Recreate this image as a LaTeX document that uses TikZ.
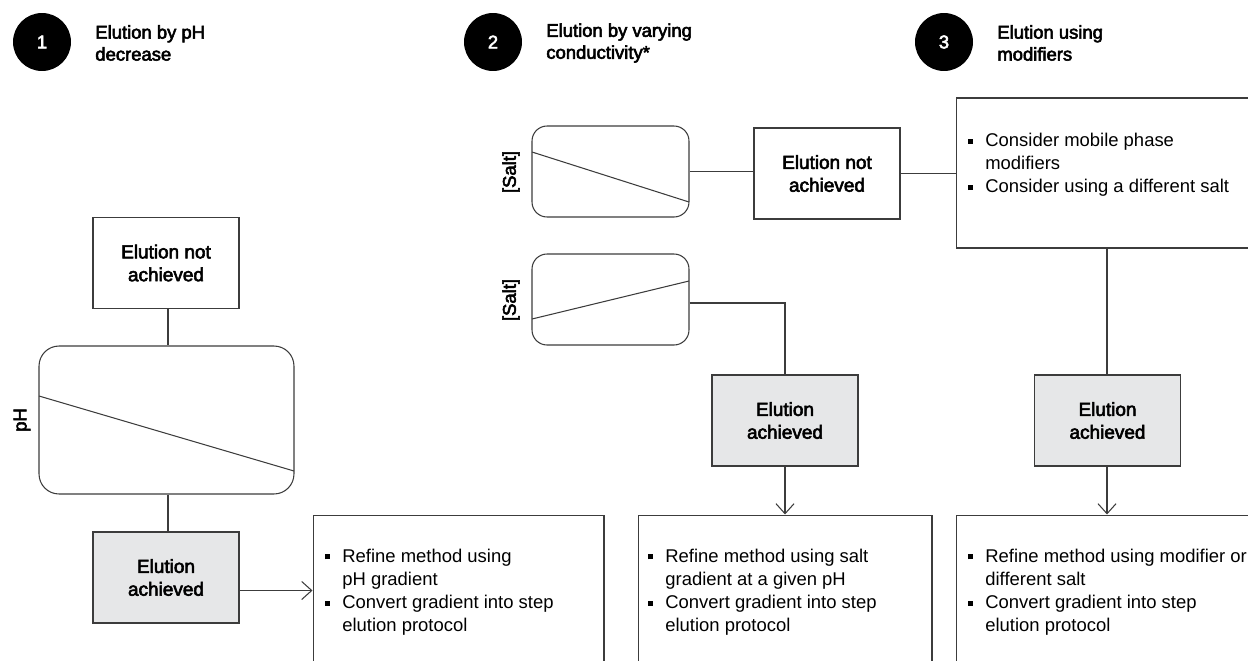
\documentclass[tikz,border=0pt]{standalone}
\usepackage{fontspec}
\setmainfont{Liberation Sans}
\newfontfamily\medfont{Liberation Sans}[FakeBold=3]
\usetikzlibrary{positioning,arrows.meta}
\definecolor{linegray}{HTML}{3C3C3C}
\definecolor{okgray}{HTML}{E6E7E8}
\newcommand\blt{\makebox[0.34cm][l]{\rule[0.15em]{0.1cm}{0.1cm}}}
\newcommand\hng{\hspace*{0.34cm}}
\tikzset{
	%boxes and charts
	box/.style = {draw=linegray, line width=0.6pt, inner sep=0pt, align=center,
	              font=\medfont\fontsize{10.8}{13}\selectfont},
	nobox/.style = {box, minimum width=2.92cm, minimum height=1.82cm},
	okbox/.style = {nobox, fill=okgray},
	frame/.style = {draw=linegray, line width=0.6pt, inner sep=0pt},
	chart/.style = {frame, rounded corners=0.3cm, minimum width=3.14cm, minimum height=1.82cm},
	%texts
	numdot/.style = {circle, fill=black, minimum size=1.16cm, inner sep=0pt,
	                 text=white, font=\medfont\fontsize{10.5}{12}\selectfont},
	title/.style = {anchor=west, inner sep=0pt, align=left,
	                font=\medfont\fontsize{10.5}{12.5}\selectfont},
	listtxt/.style = {anchor=west, inner sep=0pt, align=left,
	                  font=\fontsize{10.5}{13.1}\selectfont},
	axlbl/.style = {rotate=90, inner sep=0pt, font=\medfont\fontsize{10.5}{12}\selectfont},
	conn/.style = {draw=linegray, line width=0.6pt},
	arr/.style = {conn, -{Straight Barb[length=0.2cm, width=0.36cm]}}
}

\begin{document}
\begin{tikzpicture}[x=0.02cm, y=-0.02cm]
	\clip (0,0) rectangle (1248,660);
	%headers
	\node[numdot] (n1) at (42,42) {1};
	\node[numdot] (n2) at (493,42) {2};
	\node[numdot] (n3) at (944,42) {3};
	\node[title] (t1) at (95,43) {Elution by pH\\decrease};
	\node[title] (t2) at (546,43) {Elution by varying\\conductivity*};
	\node[title] (t3) at (997,43) {Elution using\\modifiers};

	%column 1
	\node[nobox] (noA) at (166,263) {Elution not\\achieved};
	\node[frame, rounded corners=0.4cm, minimum width=5.1cm, minimum height=2.96cm] (chA) at (166.5,420) {};
	\draw[conn] (39,396) -- (294,471);
	\node[axlbl] (yA) at (22,420) {pH};
	\node[okbox] (okA) at (166,577.5) {Elution\\achieved};
	\node[frame, minimum width=5.82cm, minimum height=3.7cm] (refA) at (458.5,607.5) {};
	\node[listtxt] (lA) at (325,592) {\blt Refine method using\\\hng pH gradient\\\blt Convert gradient into step\\\hng elution protocol};

	%column 2
	\node[chart] (chB) at (610.5,171.5) {};
	\draw[conn] (532,152) -- (689,202);
	\node[axlbl] (yB) at (511,172) {[Salt]};
	\node[nobox] (noB) at (827,173.5) {Elution not\\achieved};
	\node[chart] (chC) at (610.5,299.5) {};
	\draw[conn] (532,319) -- (689,281);
	\node[axlbl] (yC) at (511,300) {[Salt]};
	\node[okbox] (okB) at (785,420.5) {Elution\\achieved};
	\node[frame, minimum width=5.88cm, minimum height=3.7cm] (refB) at (785,607.5) {};
	\node[listtxt] (lB) at (648,592) {\blt Refine method using salt\\\hng gradient at a given pH\\\blt Convert gradient into step\\\hng elution protocol};

	%column 3
	\node[frame, minimum width=6.04cm, minimum height=3cm] (modC) at (1107,173) {};
	\node[listtxt] (lM) at (968,165) {\blt Consider mobile phase\\\hng modifiers\\\blt Consider using a different salt};
	\node[okbox] (okC) at (1107.5,420.5) {Elution\\achieved};
	\node[frame, minimum width=6.04cm, minimum height=3.7cm] (refC) at (1107,607.5) {};
	\node[listtxt] (lC) at (968,592) {\blt Refine method using modifier or\\\hng different salt\\\blt Convert gradient into step\\\hng elution protocol};

	%connectors
	\draw[conn] ([xshift=0.04cm]noA.south) -- ([xshift=0.04cm]noA.south |- chA.north);
	\draw[conn] ([xshift=0.04cm]chA.south -| noA.south) -- ([xshift=0.04cm]okA.north -| noA.south);
	\draw[arr] ([yshift=-0.26cm]okA.east) -- ([yshift=-0.26cm]okA.east -| refA.west);
	\draw[conn] (chB.east) -- (chB.east -| noB.west);
	\draw[conn] (noB.east) -- (noB.east -| modC.west);
	\draw[conn] ([yshift=-0.07cm]chC.east) -| (okB.north);
	\draw[arr] (okB.south) -- (refB.north);
	\draw[conn] (modC.south) -- (okC.north -| modC.south);
	\draw[arr] (okC.south -| modC.south) -- (refC.north);
\end{tikzpicture}
\end{document}
